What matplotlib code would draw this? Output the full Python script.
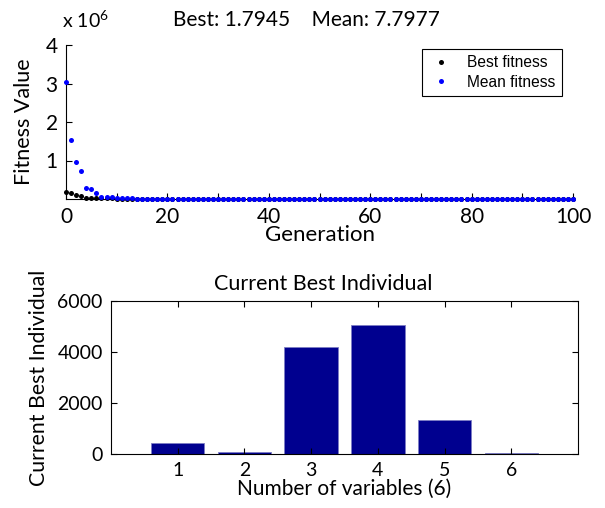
import numpy as np
import matplotlib
matplotlib.use("Agg")
import matplotlib.pyplot as plt
from matplotlib.ticker import MultipleLocator

# GA run summary: fitness per generation (raw units)
generations = list(range(101))
best_fitness = [
    1.70e5, 1.68e5, 0.92e5, 0.90e5, 3.0e4, 2.9e4, 2.5e4, 2.0e4, 1.6e4, 1.3e4,
    1.0e4, 8.1e3, 6.5e3, 5.2e3, 4.0e3, 3.1e3, 2.5e3, 1.9e3, 1.5e3, 1.2e3,
    950, 760, 610, 480, 390, 310, 250, 200, 160, 130,
    105, 85, 68, 55, 44, 36, 29, 24, 20, 17,
    15, 13, 11.5, 10.2, 9.1, 8.2, 7.4, 6.8, 6.2, 5.7,
    5.3, 4.9, 4.6, 4.3, 4.0, 3.8, 3.6, 3.4, 3.2, 3.1,
    2.95, 2.85, 2.75, 2.66, 2.58, 2.5, 2.44, 2.38, 2.32, 2.27,
    2.22, 2.18, 2.14, 2.10, 2.07, 2.04, 2.01, 1.99, 1.97, 1.95,
    1.93, 1.91, 1.90, 1.88, 1.87, 1.86, 1.85, 1.84, 1.83, 1.82,
    1.815, 1.81, 1.806, 1.803, 1.80, 1.799, 1.798, 1.797, 1.796, 1.795,
    1.7945,
]
mean_fitness = [
    3.05e6, 1.52e6, 0.97e6, 0.74e6, 0.28e6, 0.25e6, 0.16e6, 0.05e6, 0.048e6, 0.04e6,
    3.2e4, 2.6e4, 2.1e4, 1.5e4, 1.1e4, 8.4e3, 6.0e3, 4.5e3, 3.1e3, 2.2e3,
    1.6e3, 1.2e3, 900, 700, 540, 420, 330, 260, 210, 170,
    140, 115, 95, 80, 68, 58, 50, 44, 39, 35,
    32, 29.5, 27.2, 25.3, 23.6, 22.1, 20.8, 19.6, 18.5, 17.6,
    16.8, 16.0, 15.3, 14.7, 14.1, 13.6, 13.1, 12.7, 12.3, 11.9,
    11.6, 11.3, 11.0, 10.7, 10.5, 10.3, 10.1, 9.9, 9.7, 9.55,
    9.4, 9.26, 9.13, 9.0, 8.9, 8.8, 8.7, 8.61, 8.53, 8.46,
    8.39, 8.33, 8.27, 8.21, 8.16, 8.11, 8.06, 8.02, 7.98, 7.95,
    7.92, 7.89, 7.87, 7.85, 7.83, 7.82, 7.81, 7.805, 7.80, 7.799,
    7.7977,
]

# best individual of the final generation
variable_ids = [1, 2, 3, 4, 5, 6]
best_individual = [440, 90, 4180, 5060, 1330, 50]

plt.rcParams["font.family"] = ["Lato", "DejaVu Sans"]
plt.rcParams["mathtext.fontset"] = "custom"
plt.rcParams["mathtext.rm"] = "Lato"

fig = plt.figure(figsize=(6.05, 5.08), dpi=100)
W, H = 605.0, 508.0

# --- top: fitness per generation ---
ax1 = fig.add_axes([66 / W, 1 - 199 / H, (573 - 66) / W, (199 - 45) / H])
gen = np.array(generations)
ax1.plot(gen, np.array(best_fitness), "o", color="black", ms=3.6, mew=0,
         label="Best fitness", clip_on=False, zorder=3)
ax1.plot(gen, np.array(mean_fitness), "o", color="blue", ms=3.6, mew=0,
         label="Mean fitness", clip_on=False, zorder=4)
ax1.set_xlim(0, 100)
ax1.set_ylim(0, 4e6)
ax1.set_xticks(range(0, 101, 20))
ax1.xaxis.set_minor_locator(MultipleLocator(10))
ax1.set_yticks([1e6, 2e6, 3e6, 4e6])
ax1.set_yticklabels(["1", "2", "3", "4"])
ax1.spines["top"].set_visible(False)
ax1.spines["right"].set_visible(False)
ax1.tick_params(direction="in", length=4, width=0.8, labelsize=15, pad=6)
ax1.tick_params(which="minor", direction="in", length=4, width=0.8)
ax1.set_xlabel("Generation", fontsize=16, labelpad=-2)
ax1.set_ylabel("Fitness Value", fontsize=15.5, labelpad=8)
leg = ax1.legend(loc="upper right", bbox_to_anchor=(0.978, 0.974), borderaxespad=0,
                 fancybox=False, framealpha=1, edgecolor="black",
                 prop={"family": "Liberation Sans", "size": 11.2},
                 handlelength=1.6, handletextpad=0.9, borderpad=0.4, labelspacing=0.3)
leg.get_frame().set_linewidth(0.8)
fig.text(62 / W, 1 - 20 / H, r"x 10$^6$", fontsize=14, va="center", ha="left")
fig.text(306 / W, 1 - 20 / H, "Best: 1.7945    Mean: 7.7977",
         fontsize=15, ha="center", va="center")

# --- bottom: current best individual ---
ax2 = fig.add_axes([111 / W, 1 - 454 / H, (578 - 111) / W, (454 - 301) / H])
ax2.bar(variable_ids, best_individual, width=0.8, color="#00008F",
        edgecolor="#7d7dc4", linewidth=0.6)
ax2.set_xlim(0, 7)
ax2.set_ylim(0, 6000)
ax2.set_xticks(variable_ids)
ax2.set_yticks([0, 2000, 4000, 6000])
ax2.tick_params(direction="in", length=4, width=0.8, labelsize=14,
                top=True, right=True, pad=6)
for s in ax2.spines.values():
    s.set_linewidth(0.8)
ax2.set_title("Current Best Individual", fontsize=15.5, pad=8, x=0.454)
ax2.set_xlabel("Number of variables (6)", fontsize=15, labelpad=0)
ax2.set_ylabel("Current Best Individual", fontsize=15.3, labelpad=6)

fig.savefig("out.png", dpi=100)
